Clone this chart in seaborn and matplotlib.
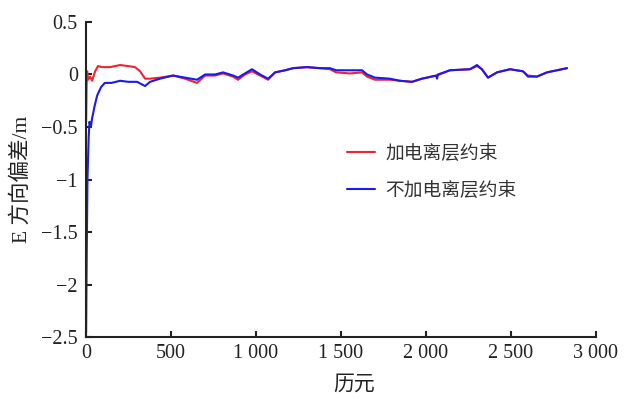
import matplotlib
matplotlib.use("Agg")
import matplotlib.pyplot as plt
import seaborn as sns

# epochs and E-direction bias (m)
red_x = [0, 3, 6, 12, 24, 35, 53, 70, 94, 141, 200, 247, 288, 318, 347, 376, 435,
         512, 582, 653, 700, 759, 806, 865, 894, 935, 976, 1024, 1071, 1112, 1171,
         1218, 1300, 1376, 1435, 1471, 1553, 1624, 1653, 1700, 1788, 1847, 1918,
         1976, 2065, 2141, 2259, 2300, 2329, 2365, 2418, 2494, 2571, 2600, 2653,
         2712, 2800, 2830]
red_y = [-0.45, -0.1, 0.03, -0.05, -0.02, -0.06, 0.03, 0.08, 0.07, 0.07, 0.09, 0.08,
         0.07, 0.03, -0.04, -0.04, -0.03, -0.01, -0.04, -0.08, -0.01, -0.01, 0.01,
         -0.02, -0.05, 0.0, 0.03, -0.01, -0.05, 0.02, 0.04, 0.06, 0.07, 0.06, 0.05,
         0.02, 0.01, 0.02, -0.02, -0.05, -0.05, -0.06, -0.07, -0.04, -0.01, 0.04,
         0.05, 0.08, 0.05, -0.03, 0.02, 0.05, 0.03, -0.01, -0.02, 0.02, 0.05, 0.06]

blue_x = [0, 3, 8, 15, 20, 28, 35, 50, 65, 88, 110, 150, 200, 250, 300, 347, 376,
          435, 512, 582, 653, 700, 759, 806, 865, 894, 935, 976, 1024, 1071, 1112,
          1171, 1218, 1300, 1376, 1435, 1471, 1553, 1624, 1653, 1700, 1788, 1847,
          1918, 1976, 2060, 2065, 2070, 2141, 2259, 2300, 2329, 2365, 2418, 2494,
          2571, 2600, 2653, 2712, 2800, 2830]
blue_y = [-2.45, -1.8, -1.0, -0.6, -0.45, -0.5, -0.42, -0.3, -0.2, -0.12, -0.08,
          -0.08, -0.06, -0.07, -0.07, -0.11, -0.07, -0.04, -0.01, -0.03, -0.05, 0.0,
          0.0, 0.02, -0.01, -0.03, 0.01, 0.05, 0.0, -0.04, 0.02, 0.04, 0.06, 0.07,
          0.06, 0.06, 0.04, 0.04, 0.04, 0.0, -0.03, -0.04, -0.06, -0.07, -0.04,
          -0.01, -0.04, 0.0, 0.04, 0.05, 0.09, 0.05, -0.03, 0.02, 0.05, 0.03, -0.02,
          -0.02, 0.02, 0.05, 0.06]

xticks = [0, 500, 1000, 1500, 2000, 2500, 3000]
xtick_labels = ["0", "500", "1 000", "1 500", "2 000", "2 500", "3 000"]
yticks = [0.5, 0, -0.5, -1, -1.5, -2, -2.5]
ytick_labels = ["0.5", "0", "\u22120.5", "\u22121", "\u22121.5", "\u22122", "\u22122.5"]

sns.set_style("ticks")
plt.rcParams["font.family"] = ["Noto Sans CJK SC", "DejaVu Sans"]
plt.rcParams["xtick.direction"] = "in"
plt.rcParams["ytick.direction"] = "in"

fig = plt.figure(figsize=(6.24, 3.99), dpi=100)
ax = fig.add_axes([0.138, 0.155, 0.817, 0.79])

sns.lineplot(x=red_x, y=red_y, color="#f2222e", lw=1.5, label="加电离层约束",
             estimator=None, sort=False, ax=ax)
sns.lineplot(x=blue_x, y=blue_y, color="#1a1aee", lw=1.5, label="不加电离层约束",
             estimator=None, sort=False, ax=ax)

ax.set_xlim(0, 3000)
ax.set_ylim(-2.5, 0.5)
ax.set_xticks(xticks)
ax.set_xticklabels(xtick_labels, family="Liberation Serif", fontsize=14.5)
ax.set_yticks(yticks)
ax.set_yticklabels(ytick_labels, family="Liberation Serif", fontsize=14.5)
ax.tick_params(length=4, width=1.5, colors="#222222")
ax.tick_params(axis="y", pad=6)
ax.tick_params(axis="x", pad=5)
for s in ["left", "bottom"]:
    ax.spines[s].set_linewidth(1.5)
    ax.spines[s].set_color("#222222")
sns.despine(ax=ax)

ax.set_xlabel("历元", fontsize=15, color="#222222")
ax.xaxis.set_label_coords(0.525, -0.112)
ax.set_ylabel("E 方向偏差/m", fontsize=15.5, color="#222222", labelpad=7,
              family=["Liberation Serif", "Noto Sans CJK SC"])

leg = ax.legend(loc="upper left", bbox_to_anchor=(0.478, 0.67), frameon=False,
                fontsize=13.5, handlelength=1.5, labelspacing=0.85, handletextpad=0.55)
for t in leg.get_texts():
    t.set_color("#333333")

fig.savefig("out.png", dpi=100)
